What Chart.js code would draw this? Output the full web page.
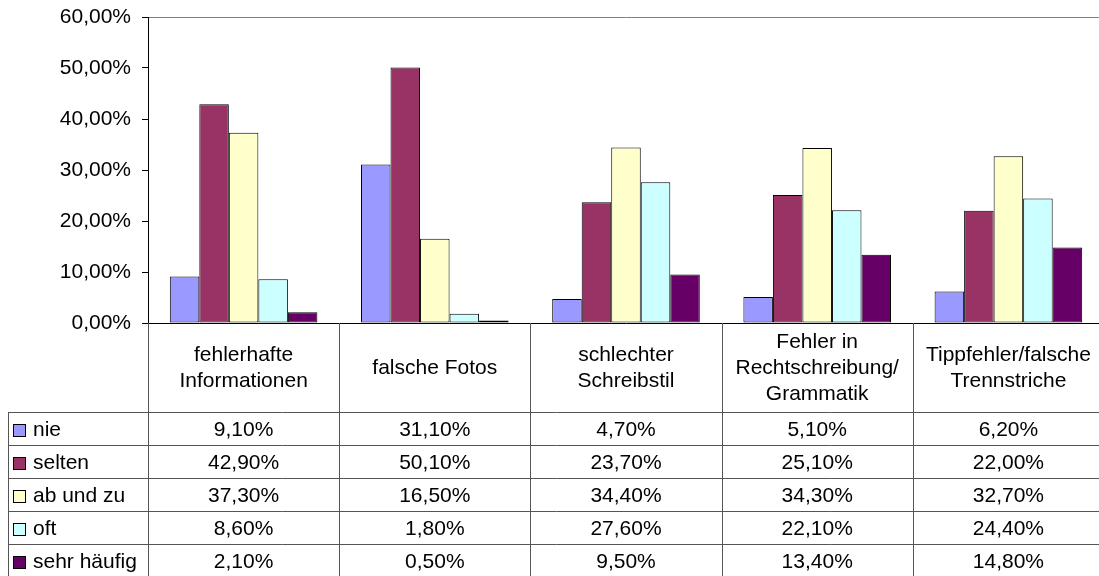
<!DOCTYPE html>
<html>
<head>
<meta charset="utf-8">
<script src="https://cdn.jsdelivr.net/npm/chart.js@4.4.0/dist/chart.umd.min.js"></script>
<style>
  html, body { margin: 0; padding: 0; background: #fff; overflow: hidden; }
  #wrap { position: absolute; left: 0; top: 0; width: 1104px; height: 576px; }
</style>
</head>
<body>
<div id="wrap"><canvas id="chart" width="1104" height="576"></canvas></div>
<script>
// Kategorien (mehrzeilig wie in der Tabelle)
const categories = [
    ['fehlerhafte', 'Informationen'],
    ['falsche Fotos'],
    ['schlechter', 'Schreibstil'],
    ['Fehler in', 'Rechtschreibung/', 'Grammatik'],
    ['Tippfehler/falsche', 'Trennstriche']
];
const seriesNames = ['nie', 'selten', 'ab und zu', 'oft', 'sehr häufig'];
const nie = [9.1, 31.1, 4.7, 5.1, 6.2];
const selten = [42.9, 50.1, 23.7, 25.1, 22.0];
const abUndZu = [37.3, 16.5, 34.4, 34.3, 32.7];
const oft = [8.6, 1.8, 27.6, 22.1, 24.4];
const sehrHaeufig = [2.1, 0.5, 9.5, 13.4, 14.8];
const yTicks = [0, 10, 20, 30, 40, 50, 60];

const seriesValues = [nie, selten, abUndZu, oft, sehrHaeufig];
const colors = ['#9999FF', '#993366', '#FFFFCC', '#CCFFFF', '#660066'];
const FONT = '21px "Liberation Sans", Arial, sans-serif';

function fmt(v) {
    return v.toFixed(2).replace('.', ',') + '%';
}

// Datentabelle unter dem Diagramm zeichnen
const dataTable = {
    id: 'dataTable',
    afterDraw(chart) {
        const ctx = chart.ctx;
        const area = chart.chartArea;
        const x = chart.scales.x;
        const n = categories.length;
        const half = (area.right - area.left) / n / 2;
        const tableLeft = 8;
        const headTop = area.bottom;
        const headBottom = area.bottom + 89;
        const rowH = 33;
        const bottom = headBottom + rowH * seriesNames.length;
        const px = v => Math.round(v) + 0.5;

        ctx.save();
        ctx.strokeStyle = '#555';
        ctx.lineWidth = 1;
        ctx.beginPath();
        // senkrechte Linien
        for (let i = 0; i <= n; i++) {
            const bx = i < n ? x.getPixelForValue(i) - half : x.getPixelForValue(n - 1) + half;
            ctx.moveTo(px(bx), headTop);
            ctx.lineTo(px(bx), bottom);
        }
        ctx.moveTo(px(tableLeft), headBottom);
        ctx.lineTo(px(tableLeft), bottom);
        // waagerechte Linien
        for (let r = 0; r <= seriesNames.length; r++) {
            const y = px(headBottom + r * rowH);
            ctx.moveTo(tableLeft, y);
            ctx.lineTo(area.right + 1, y);
        }
        ctx.stroke();

        ctx.fillStyle = '#000';
        ctx.font = FONT;
        ctx.textBaseline = 'middle';
        ctx.textAlign = 'center';
        // Kopfzeile
        const headCenter = (headTop + headBottom) / 2 + 1;
        categories.forEach((lines, i) => {
            const cx = x.getPixelForValue(i);
            const lh = 26;
            const y0 = headCenter - (lines.length - 1) * lh / 2;
            lines.forEach((t, j) => ctx.fillText(t, cx, y0 + j * lh));
        });
        // Werte
        seriesNames.forEach((name, r) => {
            const cy = headBottom + r * rowH + rowH / 2 + 2;
            ctx.textAlign = 'center';
            seriesValues[r].forEach((v, i) => {
                ctx.fillText(fmt(v), x.getPixelForValue(i), cy);
            });
            // Legendenfeld
            ctx.fillStyle = colors[r];
            ctx.fillRect(13, Math.round(cy - 7), 13, 13);
            ctx.strokeStyle = '#000';
            ctx.strokeRect(13.5, Math.round(cy - 7) + 0.5, 12, 12);
            ctx.fillStyle = '#000';
            ctx.textAlign = 'left';
            ctx.fillText(name, 33, cy);
        });
        ctx.restore();
    }
};

const ctx = document.getElementById('chart').getContext('2d');
new Chart(ctx, {
    type: 'bar',
    data: {
        labels: categories.map(c => c.join(' ')),
        datasets: seriesNames.map((name, i) => ({
            label: name,
            data: seriesValues[i],
            backgroundColor: colors[i],
            borderColor: '#000',
            borderWidth: 1,
            borderSkipped: false,
            categoryPercentage: 0.772,
            barPercentage: 1.0
        }))
    },
    options: {
        responsive: false,
        animation: false,
        layout: { padding: { top: 17, left: 0, right: 0, bottom: 0 } },
        plugins: {
            legend: { display: false },
            tooltip: { enabled: false }
        },
        scales: {
            x: {
                grid: { display: false },
                border: { display: true, color: '#000', width: 1 },
                ticks: { display: false },
                afterFit(scale) { scale.height = 253; }
            },
            y: {
                min: 0,
                max: 60,
                afterBuildTicks(scale) { scale.ticks = yTicks.map(v => ({ value: v })); },
                grid: {
                    color: c => (c.tick && c.tick.value === 60 ? '#808080' : 'rgba(0,0,0,0)'),
                    tickColor: '#000',
                    tickLength: 6,
                    lineWidth: 1
                },
                border: { display: true, color: '#000', width: 1 },
                ticks: {
                    color: '#000',
                    padding: 11,
                    font: { family: '"Liberation Sans", Arial, sans-serif', size: 21 },
                    callback: v => fmt(v)
                },
                afterFit(scale) {
                    scale.width = 148;
                    scale.paddingTop = 0;
                    scale.paddingBottom = 0;
                }
            }
        }
    },
    plugins: [dataTable]
});
</script>
</body>
</html>
